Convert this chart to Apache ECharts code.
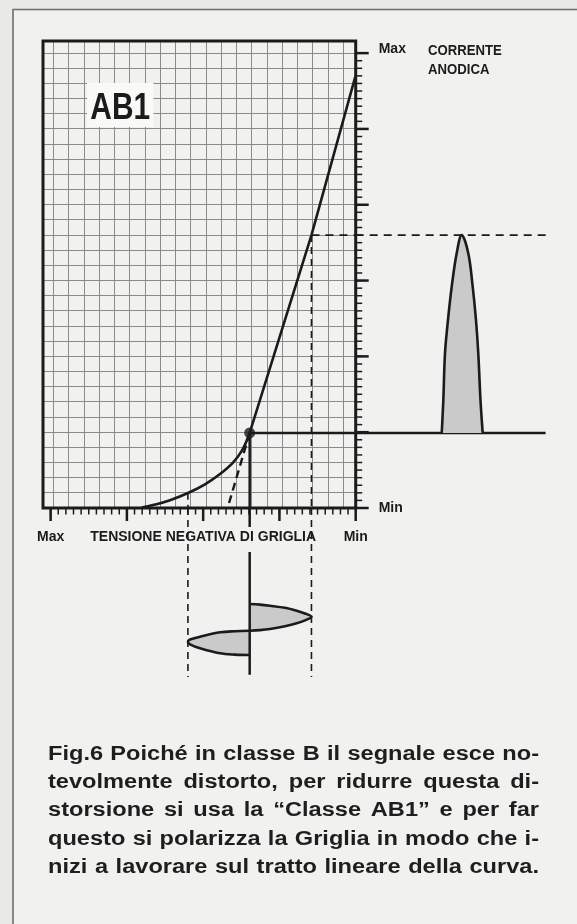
<!DOCTYPE html>
<html>
<head>
<meta charset="utf-8">
<script src="https://cdn.jsdelivr.net/npm/echarts@6/dist/echarts.min.js"></script>
<style>
  html, body { margin: 0; padding: 0; background: #e9e9e7; }
  #chart { width: 577px; height: 924px; }
</style>
</head>
<body>
<div id="chart"></div>
<script>
// ---- Valve characteristic (grid voltage units: 0 = "Min" at right, growing towards "Max") ----
const curveKnee   = [[28.06, 0.07], [26.32, 0.45], [24.35, 1.03], [21.99, 1.98], [19.76, 3.13], [17.79, 4.49],
                     [16.09, 6.0], [14.9, 7.6], [13.9, 9.9]];
const curveLinear = [[13.9, 9.9], [5.8, 36.0], [0.05, 56.9]];
const quiescent   = [13.9, 9.9];        // working point (bias, anode current)
const tangentFoot = [16.8, 0];          // dashed extension of the linear stretch
const swingHigh   = 5.8;                // grid voltage at the positive signal peak
const swingLow    = 22.0;               // grid voltage at the negative signal peak
const currentLow  = 2.0;                // anode current where swingLow meets the curve
const currentPeak = 36.0;               // anode current at swingHigh

// anode current pulse, right panel: [time, current]
const anodePulse = [[11.28, 9.9], [11.49, 14.25], [11.71, 20.45], [12.10, 24.8], [12.59, 29.2], [13.24, 33.6],
                    [13.90, 36.0], [14.76, 33.6], [15.34, 29.2], [15.77, 24.8], [16.07, 20.45], [16.36, 14.25], [16.65, 9.9]];
const panelEnd = 24.9;

// grid signal, lower panel: [grid voltage, time (downwards)]
const gridLobeUp  = [[13.9, 12.66], [12.55, 12.74], [11.24, 12.89], [9.27, 13.17], [7.74, 13.55], [6.65, 13.91], [5.8, 14.34],
                     [6.65, 14.82], [7.74, 15.21], [9.27, 15.59], [11.24, 15.96], [12.55, 16.11], [13.9, 16.19]];
const gridLobeDown = [[13.9, 16.19], [15.83, 16.25], [17.79, 16.40], [20.41, 16.98], [21.72, 17.35], [22.0, 17.64],
                      [21.72, 18.0], [20.41, 18.51], [17.79, 19.17], [15.83, 19.34], [13.9, 19.39]];
const timeEnd = 22.3;

// ---- Axis ticks and labels ----
const xMinorTicks = Array.from({ length: 41 }, (_, k) => k);
const xMajorTicks = [0, 10, 20, 30, 40];
const xLabelValues = [0, 20, 40];
const xLabelTexts  = ['Min', 'TENSIONE NEGATIVA DI GRIGLIA', 'Max'];
const yMinorTicks = Array.from({ length: 61 }, (_, k) => k);
const yMajorTicks = [0, 10, 20, 30, 40, 50, 60];
const yLabelValues = [0, 60];
const yLabelTexts  = ['Min', 'Max'];

// graph paper rulings
const paperV = Array.from({ length: 20 }, (_, k) => 1.6 + 2 * k);
const paperH = Array.from({ length: 30 }, (_, k) => 2 + 2 * k);

const captionLines = [
  'Fig.6 Poiché in classe B il segnale esce no-',
  'tevolmente distorto, per ridurre questa di-',
  'storsione si usa la “Classe AB1” e per far',
  'questo si polarizza la Griglia in modo che i-',
  'nizi a lavorare sul tratto lineare della curva.'
];

// ---- Styling ----
const INK = '#1b1b1b';
const PAPER = '#8a8a8a';
const FILL = '#cacaca';
const SANS = '"Liberation Sans", Arial, Helvetica, sans-serif';
const LABEL_FONT = 'bold 14px ' + SANS;

// layout (pixels)
const L = { left: 43, right: 355.7, top: 41, bottom: 508, panelRight: 547, panelBottom: 680 };
const plotW = L.right - L.left, plotH = L.bottom - L.top;

// keep 1px rulings on pixel centres so they stay crisp
const crisp = p => Math.round(p - 0.5) + 0.5;

const chart = echarts.init(document.getElementById('chart'));

function segment(data, xi, yi, style, z) {
  return {
    type: 'line', data, xAxisIndex: xi, yAxisIndex: yi, symbol: 'none', silent: true,
    lineStyle: Object.assign({ color: INK, width: 2.5, cap: 'butt' }, style), z: z || 3
  };
}

function lobeSeries(points, xi, yi) {
  return {
    type: 'custom', xAxisIndex: xi, yAxisIndex: yi, silent: true, z: 4,
    data: [[0, 0]],
    renderItem(params, api) {
      const pts = points.map(p => api.coord(p));
      return {
        type: 'group',
        children: [
          { type: 'polygon', shape: { points: pts }, style: { fill: FILL, stroke: null } },
          { type: 'polyline', shape: { points: pts, smooth: 0.35 }, style: { fill: null, stroke: INK, lineWidth: 2.6 } }
        ]
      };
    }
  };
}

// ticks: [side (0 = bottom, 1 = right), value, major]
const tickData = []
  .concat(xMinorTicks.map(v => [0, v, 0]), xMajorTicks.map(v => [0, v, 1]))
  .concat(yMinorTicks.map(v => [1, v, 0]), yMajorTicks.map(v => [1, v, 1]));
// labels: [side, value, index into the text list]
const labelData = []
  .concat(xLabelValues.map((v, k) => [0, v, k]))
  .concat(yLabelValues.map((v, k) => [1, v, k]));

// caption words laid out justified across the column
const CAP = { left: 48, right: 539, firstBase: 764, step: 28.35, size: 20, stretch: 1.18 };
const capFont = 'bold ' + CAP.size + 'px ' + SANS;
const meas = document.createElement('canvas').getContext('2d');
meas.font = capFont;
const captionWords = [];
captionLines.forEach((line, li) => {
  const words = line.split(' ');
  const widths = words.map(w => meas.measureText(w).width * CAP.stretch);
  const total = widths.reduce((a, b) => a + b, 0);
  const gap = (CAP.right - CAP.left - total) / (words.length - 1);
  let x = CAP.left;
  words.forEach((w, i) => {
    captionWords.push({
      type: 'text', x, y: CAP.firstBase + li * CAP.step, scaleX: CAP.stretch, z: 10, silent: true,
      style: { text: w, font: capFont, fill: '#1e1e1e', align: 'left', verticalAlign: 'bottom' }
    });
    x += widths[i] + gap;
  });
});

const hidden = { show: false, splitLine: { show: false }, axisLine: { show: false }, axisTick: { show: false }, axisLabel: { show: false } };

const option = {
  animation: false,
  backgroundColor: '#e9e9e7',
  grid: [
    { left: L.left, top: L.top, width: plotW, height: plotH },
    { left: L.right, top: L.top, width: L.panelRight - L.right, height: plotH },
    { left: L.left, top: L.bottom, width: plotW, height: L.panelBottom - L.bottom }
  ],
  xAxis: [
    Object.assign({ type: 'value', gridIndex: 0, inverse: true, min: 0, max: 41 }, hidden),
    Object.assign({ type: 'value', gridIndex: 1, min: 0, max: (L.panelRight - L.right) / (plotW / 41) }, hidden),
    Object.assign({ type: 'value', gridIndex: 2, inverse: true, min: 0, max: 41 }, hidden)
  ],
  yAxis: [
    Object.assign({ type: 'value', gridIndex: 0, min: 0, max: 61.6 }, hidden),
    Object.assign({ type: 'value', gridIndex: 1, min: 0, max: 61.6 }, hidden),
    Object.assign({ type: 'value', gridIndex: 2, inverse: true, min: 0, max: (L.panelBottom - L.bottom) / (plotH / 61.6) }, hidden)
  ],
  series: [
    // graph paper
    {
      type: 'custom', xAxisIndex: 0, yAxisIndex: 0, silent: true, z: 1,
      data: paperV.map(v => [0, v]).concat(paperH.map(v => [1, v])),
      renderItem(params, api) {
        const cs = params.coordSys;
        const val = api.value(1);
        if (api.value(0) === 0) {
          const x = crisp(api.coord([val, 0])[0]);
          return { type: 'line', shape: { x1: x, y1: cs.y, x2: x, y2: cs.y + cs.height }, style: { stroke: PAPER, lineWidth: 1 } };
        }
        const y = crisp(api.coord([0, val])[1]);
        return { type: 'line', shape: { x1: cs.x, y1: y, x2: cs.x + cs.width, y2: y }, style: { stroke: PAPER, lineWidth: 1 } };
      }
    },
    // scale ticks along the bottom and right edges
    {
      type: 'custom', xAxisIndex: 0, yAxisIndex: 0, silent: true, z: 5,
      data: tickData,
      renderItem(params, api) {
        const cs = params.coordSys;
        const major = api.value(2) === 1;
        const len = major ? 13 : 6.5;
        const style = { stroke: INK, lineWidth: major ? 2.5 : 1.5 };
        if (api.value(0) === 0) {
          const x = api.coord([api.value(1), 0])[0];
          const y0 = cs.y + cs.height;
          return { type: 'line', shape: { x1: x, y1: y0, x2: x, y2: y0 + len }, style };
        }
        const y = api.coord([0, api.value(1)])[1];
        const x0 = cs.x + cs.width;
        return { type: 'line', shape: { x1: x0, y1: y, x2: x0 + len, y2: y }, style };
      }
    },
    // scale labels
    {
      type: 'custom', xAxisIndex: 0, yAxisIndex: 0, silent: true, z: 5,
      data: labelData,
      renderItem(params, api) {
        const cs = params.coordSys;
        const k = api.value(2);
        if (api.value(0) === 0) {
          const x = api.coord([api.value(1), 0])[0];
          return { type: 'text', x, y: cs.y + cs.height + 29,
                   style: { text: xLabelTexts[k], font: LABEL_FONT, fill: INK, align: 'center', verticalAlign: 'middle' } };
        }
        const v = api.value(1);
        const y = api.coord([0, v])[1] - (v === 60 ? 4 : 0);
        return { type: 'text', x: cs.x + cs.width + 23, y,
                 style: { text: yLabelTexts[k], font: LABEL_FONT, fill: INK, align: 'left', verticalAlign: 'middle' } };
      }
    },
    // plot frame
    {
      type: 'custom', xAxisIndex: 0, yAxisIndex: 0, silent: true, z: 5, data: [[0, 0]],
      renderItem(params) {
        const cs = params.coordSys;
        return { type: 'rect', shape: { x: cs.x, y: cs.y, width: cs.width, height: cs.height }, style: { fill: null, stroke: INK, lineWidth: 3 } };
      }
    },
    // characteristic curve
    Object.assign(segment(curveKnee, 0, 0, { width: 2.6 }, 4), { smooth: 0.4 }),
    segment(curveLinear, 0, 0, { width: 2.6 }, 4),
    segment([quiescent, tangentFoot], 0, 0, { type: [8, 5], width: 2.4 }, 3),
    // working point lines
    segment([quiescent, [0, quiescent[1]]], 0, 0, {}, 3),
    segment([quiescent, [quiescent[0], 0]], 0, 0, {}, 3),
    segment([[swingHigh, currentPeak], [0, currentPeak]], 0, 0, { type: [8, 6], width: 1.6 }, 3),
    segment([[swingHigh, currentPeak], [swingHigh, 0]], 0, 0, { type: [7, 5], width: 1.6 }, 3),
    segment([[swingLow, currentLow], [swingLow, 0]], 0, 0, { type: [7, 5], width: 1.6 }, 3),
    {
      type: 'scatter', xAxisIndex: 0, yAxisIndex: 0, data: [quiescent], symbolSize: 11,
      itemStyle: { color: INK }, silent: true, z: 6
    },
    // right panel: anode current
    segment([[0, quiescent[1]], [panelEnd, quiescent[1]]], 1, 1, {}, 3),
    segment([[0, currentPeak], [panelEnd + 0.2, currentPeak]], 1, 1, { type: [8, 6], width: 1.6 }, 3),
    lobeSeries(anodePulse, 1, 1),
    // lower panel: grid signal
    segment([[quiescent[0], 0], [quiescent[0], 2.5]], 2, 2, {}, 3),
    segment([[quiescent[0], 5.8], [quiescent[0], 22.0]], 2, 2, {}, 5),
    segment([[swingHigh, 0], [swingHigh, timeEnd]], 2, 2, { type: [7, 5], width: 1.6 }, 3),
    segment([[swingLow, 0], [swingLow, timeEnd]], 2, 2, { type: [7, 5], width: 1.6 }, 3),
    lobeSeries(gridLobeUp, 2, 2),
    lobeSeries(gridLobeDown, 2, 2)
  ],
  graphic: [
    { type: 'rect', z: -10, silent: true, shape: { x: 13, y: 9.5, width: 564, height: 915 }, style: { fill: '#f1f1ef' } },
    { type: 'polyline', z: 9, silent: true, shape: { points: [[13, 924], [13, 9.5], [577, 9.5]] }, style: { stroke: '#6e6e6e', lineWidth: 1.6, fill: null } },
    {
      type: 'text', x: 87, y: 83, scaleX: 0.83, z: 8, silent: true,
      style: { text: 'AB1', font: 'bold 36px ' + SANS, fill: INK, backgroundColor: '#f9f9f8', padding: [8, 4, 0, 4] }
    },
    {
      type: 'text', x: 428, y: 42, scaleX: 0.94, z: 8, silent: true,
      style: { text: 'CORRENTE\nANODICA', font: LABEL_FONT, fill: INK, lineHeight: 19 }
    }
  ].concat(captionWords)
};

chart.setOption(option);
</script>
</body>
</html>
